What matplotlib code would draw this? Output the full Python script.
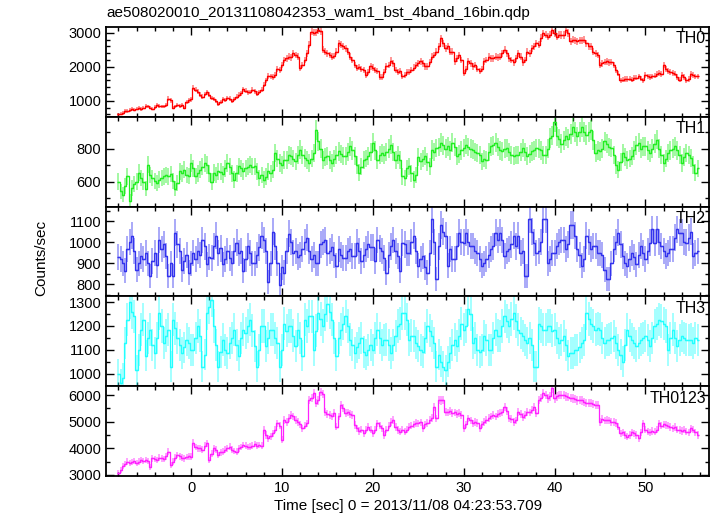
import numpy as np
import matplotlib
matplotlib.use("Agg")
import matplotlib.pyplot as plt
from matplotlib.ticker import MultipleLocator

plt.rcParams['font.family'] = ['Liberation Sans', 'DejaVu Sans']

title = "ae508020010_20131108042353_wam1_bst_4band_16bin.qdp"
xlabel = "Time [sec] 0 = 2013/11/08 04:23:53.709"
ylabel = "Counts/sec"
band_names = ["TH0", "TH1", "TH2", "TH3", "TH0123"]

t_start = -8.0
bin_width = 0.25

th0 = [600, 620, 640, 690, 700, 720, 750, 740, 770, 790, 760, 800,
       850, 830, 800, 770, 820, 860, 850, 830, 830, 860, 1060, 1010,
       800, 830, 860, 850, 860, 800, 960, 1010, 1040, 1390, 1330, 1270,
       1180, 1120, 1200, 1250, 1180, 1085, 1050, 1000, 900, 960, 1050, 1030,
       1080, 1060, 1000, 1050, 1120, 1180, 1220, 1345, 1300, 1245, 1260, 1325,
       1280, 1210, 1260, 1320, 1470, 1600, 1735, 1720, 1700, 1750, 1930, 1900,
       2050, 2205, 2250, 2300, 2280, 2400, 2350, 2300, 1960, 2050, 2205, 2400,
       2650, 3040, 3010, 3020, 3090, 3060, 2500, 2450, 2400, 2350, 2300, 2320,
       2450, 2697, 2650, 2600, 2550, 2450, 2300, 2200, 2050, 1960, 1990, 1930,
       1910, 1765, 1850, 2010, 1980, 1910, 1880, 1700, 1700, 1850, 2010, 2050,
       2185, 2100, 1910, 1850, 1865, 1715, 1760, 1840, 1840, 1900, 1980, 2060,
       2100, 2160, 2100, 2010, 2010, 2150, 2300, 2350, 2450, 2600, 2843, 2700,
       2550, 2600, 2450, 2450, 2160, 2250, 2350, 2200, 1815, 1950, 2160, 2100,
       2010, 2050, 1950, 1865, 1950, 2160, 2200, 2300, 2250, 2250, 2300, 2280,
       2300, 2400, 2500, 2400, 2250, 2200, 2130, 2250, 2400, 2300, 2130, 2200,
       2450, 2400, 2550, 2600, 2700, 2650, 2850, 2990, 2950, 2890, 2950, 3090,
       3000, 2890, 2950, 2940, 2940, 3100, 3000, 2750, 2800, 2780, 2760, 2780,
       2780, 2800, 2700, 2600, 2600, 2450, 2400, 2350, 2060, 2100, 2150, 2160,
       2130, 2150, 2050, 1910, 1800, 1600, 1620, 1640, 1640, 1650, 1620, 1670,
       1680, 1715, 1650, 1600, 1765, 1720, 1700, 1715, 1740, 1780, 1815, 1790,
       2060, 1950, 1865, 1850, 1815, 1800, 1700, 1620, 1765, 1700, 1600, 1640,
       1790, 1750, 1715, 1720]

th1 = [600, 540, 521, 572, 632, 481, 560, 587, 600, 653, 620, 600,
       557, 703, 640, 622, 602, 590, 612, 620, 632, 640, 632, 645,
       602, 557, 590, 663, 650, 673, 640, 633, 713, 680, 633, 650,
       673, 690, 713, 700, 650, 600, 653, 640, 663, 660, 643, 680,
       713, 690, 650, 612, 650, 693, 680, 663, 680, 690, 703, 690,
       693, 660, 622, 640, 612, 630, 663, 650, 673, 774, 740, 713,
       700, 733, 733, 760, 754, 740, 723, 760, 794, 760, 743, 730,
       713, 740, 774, 915, 845, 800, 733, 750, 754, 730, 713, 740,
       760, 784, 770, 754, 754, 780, 814, 790, 754, 700, 653, 690,
       733, 740, 754, 780, 835, 790, 733, 760, 774, 760, 780, 800,
       824, 780, 733, 760, 733, 632, 622, 680, 693, 650, 612, 640,
       750, 723, 740, 754, 720, 693, 794, 780, 804, 810, 835, 820,
       800, 814, 790, 835, 810, 754, 770, 790, 804, 824, 810, 800,
       794, 780, 774, 760, 723, 740, 733, 780, 814, 820, 835, 810,
       790, 784, 800, 804, 780, 760, 754, 760, 764, 780, 804, 780,
       754, 770, 784, 790, 804, 800, 790, 764, 764, 800, 865, 880,
       965, 875, 860, 830, 850, 875, 860, 890, 935, 900, 875, 900,
       935, 900, 885, 900, 915, 850, 774, 790, 784, 800, 845, 830,
       810, 804, 760, 700, 673, 720, 774, 750, 733, 740, 754, 790,
       820, 835, 800, 814, 814, 790, 774, 800, 830, 855, 800, 760,
       713, 740, 774, 790, 800, 814, 790, 760, 713, 750, 774, 760,
       743, 700, 653, 680]

th2 = [930, 919, 900, 864, 967, 1000, 1030, 960, 870, 900, 935, 920,
       950, 900, 840, 910, 950, 890, 1010, 967, 990, 935, 840, 900,
       840, 1045, 990, 960, 870, 910, 940, 855, 900, 950, 920, 960,
       940, 1010, 980, 895, 930, 925, 980, 1030, 950, 970, 895, 920,
       957, 925, 900, 960, 997, 950, 960, 864, 920, 982, 950, 900,
       900, 940, 975, 1030, 1010, 960, 810, 900, 1050, 980, 900, 795,
       880, 855, 960, 1040, 1000, 950, 960, 930, 940, 967, 1000, 1020,
       960, 919, 940, 900, 900, 990, 1000, 1010, 950, 960, 975, 940,
       888, 967, 940, 925, 925, 960, 967, 935, 935, 997, 960, 910,
       940, 967, 990, 975, 975, 910, 1010, 970, 960, 925, 855, 940,
       980, 1010, 960, 935, 864, 997, 990, 950, 950, 1000, 1030, 960,
       888, 920, 935, 880, 855, 950, 1110, 1000, 825, 980, 1080, 1050,
       1030, 888, 967, 920, 919, 980, 1045, 1000, 997, 1045, 1000, 982,
       982, 960, 950, 920, 888, 900, 919, 940, 967, 980, 1045, 1010,
       1045, 1010, 935, 960, 967, 990, 1030, 980, 1030, 950, 960, 840,
       840, 1110, 1050, 997, 950, 960, 1000, 1110, 1110, 900, 920, 950,
       950, 982, 1000, 1010, 1010, 967, 990, 1080, 1080, 1030, 967, 940,
       888, 920, 1030, 1000, 967, 982, 982, 950, 950, 940, 870, 825,
       825, 900, 967, 1000, 1045, 990, 935, 900, 888, 920, 950, 930,
       895, 940, 982, 950, 919, 960, 997, 1060, 997, 1060, 1000, 982,
       960, 935, 950, 967, 967, 1020, 1060, 1045, 1045, 1000, 997, 1020,
       1050, 935, 950, 960]

th3 = [1000, 960, 981, 1129, 1227, 1300, 1260, 1240, 1015, 1100, 1185, 1227,
       1075, 1150, 1185, 1120, 1087, 1150, 1255, 1200, 1129, 1160, 1185, 1030,
       1227, 1190, 1150, 1120, 1087, 1110, 1143, 1130, 1100, 1100, 1150, 1200,
       1160, 1030, 1080, 1255, 1280, 1310, 1200, 1120, 1030, 1090, 1143, 1100,
       1087, 1130, 1150, 1185, 1120, 1075, 1150, 1185, 1170, 1200, 1227, 1180,
       1115, 1030, 1100, 1200, 1200, 1115, 1150, 1185, 1185, 1150, 1129, 1030,
       1100, 1210, 1180, 1200, 1200, 1160, 1115, 1185, 1150, 1075, 1227, 1200,
       1240, 1240, 1100, 1180, 1255, 1230, 1200, 1250, 1290, 1260, 1227, 1150,
       1075, 1150, 1185, 1210, 1240, 1200, 1143, 1120, 1087, 1110, 1129, 1150,
       1090, 1080, 1100, 1120, 1100, 1150, 1185, 1150, 1122, 1140, 1143, 1120,
       1087, 1120, 1157, 1200, 1210, 1255, 1255, 1227, 1143, 1160, 1157, 1130,
       1115, 1100, 1090, 1150, 1200, 1180, 1157, 1130, 1030, 1080, 1050, 1030,
       1015, 1050, 1087, 1120, 1143, 1115, 1160, 1210, 1185, 1200, 1270, 1250,
       1129, 1150, 1100, 1090, 1100, 1157, 1140, 1100, 1100, 1150, 1185, 1160,
       1157, 1200, 1240, 1220, 1200, 1230, 1255, 1220, 1185, 1170, 1157, 1140,
       1129, 1150, 1120, 1030, 1030, 1210, 1200, 1185, 1185, 1200, 1200, 1180,
       1185, 1150, 1129, 1140, 1157, 1120, 1075, 1087, 1087, 1100, 1100, 1110,
       1129, 1140, 1255, 1230, 1210, 1200, 1185, 1190, 1185, 1150, 1129, 1140,
       1143, 1150, 1157, 1130, 1100, 1080, 1050, 1120, 1185, 1160, 1143, 1130,
       1115, 1130, 1143, 1150, 1157, 1140, 1115, 1150, 1200, 1210, 1227, 1220,
       1210, 1200, 1100, 1150, 1185, 1150, 1115, 1140, 1157, 1150, 1143, 1140,
       1143, 1130, 1150, 1140]

th0123 = [3070, 3200, 3350, 3420, 3500, 3450, 3480, 3520, 3450, 3500, 3560, 3520,
          3560, 3520, 3315, 3625, 3600, 3550, 3650, 3625, 3600, 3700, 3875, 3375,
          3500, 3650, 3750, 3700, 3650, 3625, 3680, 3700, 3690, 4215, 4050, 4000,
          4000, 3950, 4100, 4190, 3565, 3800, 4000, 3950, 3750, 3850, 3875, 3950,
          4000, 4065, 3950, 3900, 3875, 4000, 4050, 4125, 4100, 4050, 4065, 4100,
          4165, 4100, 4125, 4100, 4690, 4500, 4375, 4450, 4565, 4700, 4940, 4850,
          4315, 5065, 5000, 5150, 5250, 5200, 5065, 5000, 4900, 4750, 4850, 4940,
          5815, 5900, 6065, 5690, 5800, 6125, 6050, 5375, 5300, 5250, 5200, 5315,
          4815, 5200, 5625, 5500, 5315, 5350, 5300, 5250, 4875, 4750, 4650, 4700,
          4565, 4700, 4815, 4700, 4565, 4700, 4940, 4850, 4750, 4500, 4700, 4850,
          5000, 5065, 4800, 4690, 4625, 4700, 4625, 4700, 4815, 4850, 4900, 4950,
          4940, 4980, 4750, 4900, 4950, 5065, 5150, 5560, 5125, 5815, 5800, 5815,
          5375, 5350, 5400, 5315, 5350, 5300, 5315, 5250, 4750, 4900, 5125, 5050,
          4940, 5000, 4950, 4750, 4900, 5000, 5065, 5150, 5200, 5250, 5200, 5280,
          5315, 5350, 5560, 5400, 5125, 5100, 5000, 5050, 5375, 5300, 5190, 5250,
          5375, 5350, 5450, 5560, 5315, 5815, 5900, 6065, 6000, 5875, 5950, 6250,
          5875, 5950, 6000, 6000, 6000, 5950, 5940, 5900, 5875, 5850, 5800, 5815,
          5800, 5750, 5690, 5700, 5690, 5650, 5625, 5625, 5000, 5100, 5050, 5065,
          5050, 5000, 5000, 4950, 4815, 4565, 4600, 4500, 4440, 4500, 4600, 4565,
          4500, 4375, 4600, 4940, 4700, 4625, 4600, 4650, 4625, 4700, 4940, 4850,
          4900, 4875, 4850, 4800, 4750, 4800, 4700, 4690, 4650, 4700, 4625, 4600,
          4750, 4700, 4600, 4500]

series = [th0, th1, th2, th3, th0123]
colors = ["#ff0000", "#22ee22", "#3333ee", "#22ffff", "#ff22ff"]
ylims = [(530, 3180), (448, 995), (743, 1169), (948, 1324), (2960, 6337)]
ymajor = [1000, 200, 100, 100, 1000]
yminor = [200, 100, 50, 50, 500]

fig = plt.figure(figsize=(7.17, 5.16), dpi=100)
axes = fig.subplots(5, 1, sharex=True)
fig.subplots_adjust(left=0.148, right=0.989, top=0.948, bottom=0.0775, hspace=0)

for ax, vals, col, name, yl, ymj, ymn in zip(axes, series, colors, band_names,
                                              ylims, ymajor, yminor):
    v = np.asarray(vals, dtype=float)
    t = t_start + bin_width * np.arange(len(v))
    err = np.sqrt(v / bin_width)
    ax.vlines(t, v - err, v + err, color=col, alpha=0.45, lw=1.3)
    ax.hlines(v, t - bin_width / 2, t + bin_width / 2, color=col, lw=1.0)
    ax.step(t, v, where='mid', color=col, lw=0.9)
    ax.set_ylim(*yl)
    ax.set_xlim(-9.35, 57.0)
    ax.yaxis.set_major_locator(MultipleLocator(ymj))
    ax.yaxis.set_minor_locator(MultipleLocator(ymn))
    ax.xaxis.set_major_locator(MultipleLocator(10))
    ax.xaxis.set_minor_locator(MultipleLocator(2))
    ax.tick_params(which='both', direction='in', top=True, right=True,
                   labelsize=10.5, width=1.0)
    ax.tick_params(which='major', length=6)
    ax.tick_params(which='minor', length=3)
    for s in ax.spines.values():
        s.set_linewidth(1.3)
    ax.text(0.995, 0.95, name, transform=ax.transAxes, ha='right', va='top',
            fontsize=11.5)

axes[-1].set_xlabel(xlabel, fontsize=11, labelpad=3)
fig.text(0.057, 0.5, ylabel, rotation=90, ha='center', va='center', fontsize=11)
fig.text(0.149, 0.961, title, ha='left', va='bottom', fontsize=11)

fig.savefig("out.png", dpi=100)
